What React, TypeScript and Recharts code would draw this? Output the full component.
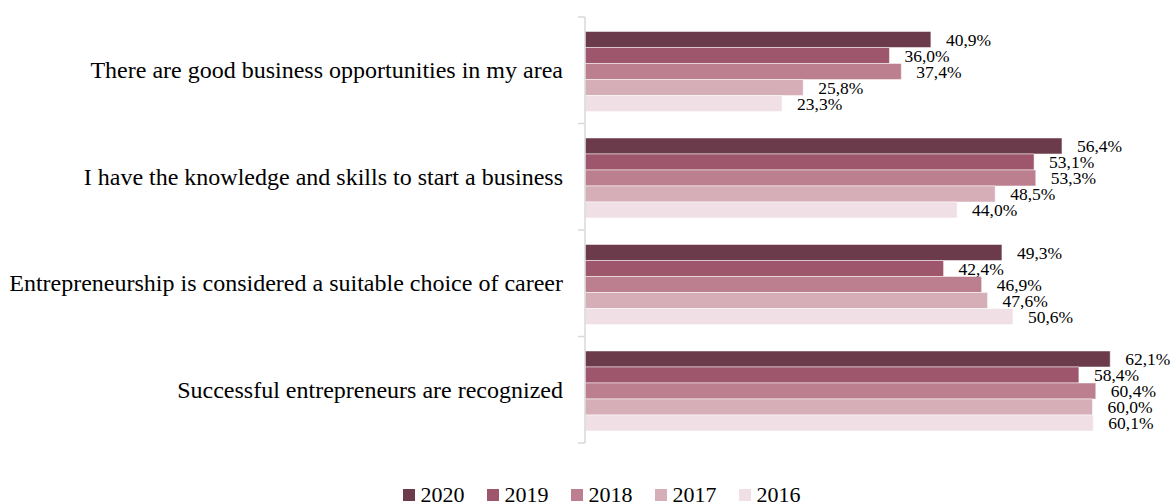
import { Bar, BarChart, LabelList, Legend, XAxis, YAxis } from "recharts";

const FONT = "'Times New Roman', 'Liberation Serif', serif";

const categories = [
  "There are good business opportunities in my area",
  "I have the knowledge and skills to start a business",
  "Entrepreneurship is considered a suitable choice of career",
  "Successful entrepreneurs are recognized",
];

const years = ["2020", "2019", "2018", "2017", "2016"];
const values2020 = [40.9, 56.4, 49.3, 62.1];
const values2019 = [36.0, 53.1, 42.4, 58.4];
const values2018 = [37.4, 53.3, 46.9, 60.4];
const values2017 = [25.8, 48.5, 47.6, 60.0];
const values2016 = [23.3, 44.0, 50.6, 60.1];
const seriesValues = [values2020, values2019, values2018, values2017, values2016];

const COLORS = ["#6b3a4b", "#9d566b", "#bc7f8f", "#d5aeb8", "#f0e0e5"];

const data = categories.map((name, i) => {
  const row: Record<string, string | number> = { name };
  years.forEach((y, s) => {
    row[y] = seriesValues[s][i];
  });
  return row;
});

const fmt = (v: number) => `${v.toFixed(1).replace(".", ",")}%`;

function CategoryTick(props: any) {
  const { x, y, payload, index, visibleTicksCount } = props;
  const half = payload.offset ?? 53;
  return (
    <g>
      <line x1={x - 7} x2={x} y1={y - half} y2={y - half} stroke="#d9d9d9" strokeWidth={1.5} />
      {index === visibleTicksCount - 1 && (
        <line x1={x - 7} x2={x} y1={y + half} y2={y + half} stroke="#d9d9d9" strokeWidth={1.5} />
      )}
      <text
        x={x - 22}
        y={y}
        textAnchor="end"
        dominantBaseline="central"
        fontFamily={FONT}
        fontSize={24}
        fill="#000"
      >
        {payload.value}
      </text>
    </g>
  );
}

function YearLegend() {
  return (
    <div
      style={{
        display: "flex",
        justifyContent: "center",
        paddingLeft: 34,
        fontFamily: FONT,
        fontSize: 22,
        color: "#000",
      }}
    >
      {years.map((y, i) => (
        <div key={y} style={{ display: "flex", alignItems: "center", marginRight: 22 }}>
          <span
            style={{ width: 12, height: 12, background: COLORS[i], display: "inline-block", marginRight: 6 }}
          />
          <span>{y}</span>
        </div>
      ))}
    </div>
  );
}

export default function App() {
  // fixed frame so nothing overflows the page and triggers scrollbars
  return (
    <div style={{ position: "fixed", left: 0, top: 0, width: 1175, height: 502, overflow: "hidden", background: "#fff" }}>
      <div style={{ position: "absolute", left: 8, top: 8 }}>
        <BarChart
          width={1175}
          height={494}
          data={data}
          layout="vertical"
          margin={{ top: 9, right: 6, bottom: 33, left: 0 }}
          barCategoryGap="13.6%"
          barGap={0}
        >
          <XAxis type="number" domain={[0, 70]} hide />
          <YAxis
            type="category"
            dataKey="name"
            width={577}
            axisLine={{ stroke: "#d9d9d9", strokeWidth: 1.5 }}
            tickLine={false}
            tickSize={0}
            tickMargin={0}
            tick={<CategoryTick />}
            interval={0}
          />
          <Legend
            content={<YearLegend />}
            wrapperStyle={{ top: 474, left: 0, width: 1175 }}
          />
          {years.map((y, i) => (
            <Bar
              key={y}
              dataKey={y}
              fill={COLORS[i]}
              stroke="#fff"
              strokeWidth={0.5}
              isAnimationActive={false}
            >
              <LabelList
                dataKey={y}
                position="right"
                offset={15}
                formatter={(v: any) => fmt(Number(v))}
                style={{ fontFamily: FONT, fontSize: 17.5, fill: "#000" }}
              />
            </Bar>
          ))}
        </BarChart>
      </div>
    </div>
  );
}
